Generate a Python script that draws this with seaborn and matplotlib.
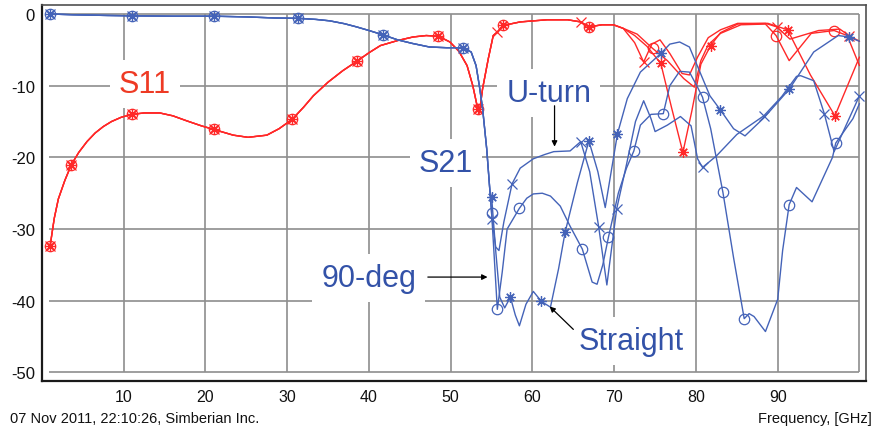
import numpy as np
import pandas as pd
import matplotlib
matplotlib.use("Agg")
import matplotlib.pyplot as plt
import seaborn as sns

# ---------------- data: frequency [GHz] and magnitude [dB] ----------------
# Low-frequency part shared by all three structures
f_s11_low = [1.0, 1.5, 2.0, 2.8, 3.6, 4.5, 5.5, 6.5, 7.5, 8.5, 9.7, 11.0, 12.5, 14.4,
             16.0, 17.7, 19.5, 21.0, 23.4, 25.2, 27.5, 29.0, 30.6, 32.0, 33.2, 35.0,
             36.8, 38.5, 40.0, 41.4, 43.5, 45.4, 47.0, 48.5, 49.9, 51.0, 52.0, 52.7,
             53.3, 53.5, 53.9, 54.6, 55.2, 55.7, 56.4, 58.5, 61.8, 64.3, 65.9, 66.9,
             68.5, 69.9, 71.1]
s11_low = [-32.3, -28.5, -25.8, -23.2, -21.0, -19.3, -17.8, -16.6, -15.7, -15.0, -14.4,
           -14.0, -13.8, -13.8, -14.2, -14.9, -15.6, -16.1, -16.9, -17.2, -16.9, -16.0,
           -14.7, -13.0, -11.4, -9.5, -7.9, -6.6, -5.4, -4.4, -3.7, -3.2, -3.0, -3.1,
           -3.9, -5.2, -7.2, -10.0, -13.2, -13.8, -10.4, -6.2, -3.0, -2.5, -1.6, -1.1,
           -0.8, -0.8, -1.1, -1.8, -1.5, -1.5, -2.0]

f_s21_low = [1.0, 3.8, 8.0, 11.0, 16.0, 21.0, 25.0, 28.5, 31.3, 33.5, 35.2, 37.0, 38.5,
             40.0, 41.7, 43.5, 45.3, 47.4, 49.5, 51.5, 52.5, 53.1, 53.5, 53.9, 54.4, 54.8]
s21_low = [0.0, -0.1, -0.2, -0.25, -0.3, -0.3, -0.4, -0.55, -0.6, -0.75, -0.95, -1.35,
           -1.8, -2.3, -2.9, -3.6, -4.1, -4.6, -4.7, -4.7, -5.3, -7.2, -10.0, -13.2,
           -18.8, -24.8]

# S11 above 71 GHz, per structure
f_s11_straight = [72.5, 74.0, 75.7, 77.0, 78.4, 79.5, 80.6, 81.8, 83.0, 85.1, 88.8, 91.2,
                  94.0, 97.0, 100.0]
s11_straight = [-3.0, -4.5, -6.9, -13.0, -19.3, -13.5, -7.0, -4.4, -2.6, -1.4, -1.3, -2.2,
                -8.5, -14.2, -6.0]
f_s11_90deg = [72.8, 74.7, 76.5, 78.5, 79.8, 80.6, 81.5, 83.0, 85.5, 88.5, 89.8, 91.4,
               94.1, 96.9, 98.5, 100.0]
s11_90deg = [-2.8, -4.8, -6.5, -9.0, -10.2, -6.5, -4.3, -2.7, -1.5, -1.4, -3.0, -6.5,
             -2.7, -2.3, -3.0, -7.2]
f_s11_uturn = [72.5, 73.6, 74.6, 75.6, 76.8, 78.3, 79.2, 80.2, 81.5, 83.0, 85.1, 88.5,
               89.9, 91.5, 95.0, 97.6, 98.7, 100.0]
s11_uturn = [-4.0, -6.7, -4.2, -3.6, -5.5, -8.3, -8.5, -6.0, -3.3, -2.2, -1.3, -1.3,
             -1.8, -3.5, -2.3, -2.1, -3.0, -3.8]

# S21 above 55 GHz, per structure
f_s21_straight = [55.0, 55.5, 56.0, 56.6, 57.3, 57.9, 58.4, 59.2, 60.1, 61.1, 62.2, 63.2,
                  64.0, 65.5, 66.9, 68.0, 68.9, 69.7, 70.4, 71.6, 73.2, 75.7, 76.8, 78.0,
                  79.2, 81.7, 83.0, 84.6, 86.0, 88.3, 91.4, 94.4, 97.4, 98.7, 100.0]
s21_straight = [-25.5, -33.0, -39.5, -41.0, -39.5, -42.0, -43.5, -40.5, -38.7, -40.1, -40.9,
                -35.5, -30.4, -23.5, -17.7, -22.0, -27.0, -21.5, -16.7, -11.8, -8.1, -5.5,
                -4.2, -3.9, -4.6, -11.4, -13.4, -16.0, -17.0, -14.5, -10.5, -5.3, -3.0,
                -3.2, -3.8]
f_s21_90deg = [55.0, 55.7, 56.3, 56.9, 58.4, 59.3, 60.1, 61.2, 62.2, 63.4, 64.6, 66.1,
               67.3, 67.9, 68.6, 69.3, 70.5, 71.5, 72.4, 73.2, 74.5, 76.0, 76.8, 78.0,
               79.2, 80.1, 80.8, 81.8, 83.3, 84.6, 85.9, 86.5, 87.1, 88.5, 90.0, 90.6,
               91.4, 92.3, 94.2, 96.7, 97.1, 99.2, 100.0]
s21_90deg = [-27.7, -41.2, -36.0, -30.0, -27.1, -25.7, -25.1, -25.0, -25.4, -26.8, -29.6,
             -32.8, -37.4, -37.7, -35.0, -31.1, -25.0, -21.5, -19.1, -15.5, -14.0, -13.9,
             -10.0, -8.0, -8.1, -10.0, -11.6, -16.0, -24.9, -34.0, -42.5, -41.8, -42.2,
             -44.3, -39.8, -33.0, -26.6, -24.2, -26.2, -20.0, -18.0, -14.6, -12.5]
f_s21_uturn = [55.05, 55.5, 55.9, 56.5, 57.5, 58.5, 60.1, 61.5, 62.6, 64.6, 65.9, 67.0,
               68.1, 69.1, 70.3, 71.5, 72.6, 73.6, 74.5, 75.0, 76.5, 78.1, 79.4, 80.2,
               80.8, 82.5, 85.0, 88.3, 90.5, 92.3, 92.8, 94.4, 95.7, 96.9, 100.0]
s21_uturn = [-28.6, -32.5, -33.0, -29.0, -23.7, -21.5, -20.2, -19.6, -19.2, -19.1, -17.8,
             -22.0, -29.7, -37.8, -27.2, -21.0, -15.0, -12.1, -14.6, -16.4, -15.5, -14.3,
             -15.6, -20.2, -21.4, -19.8, -16.8, -14.2, -11.5, -8.7, -8.6, -9.3, -13.9,
             -19.2, -11.4]

# frequencies that carry a marker on each curve
mk_s11_common = [1.0, 3.6, 11.0, 21.0, 30.6, 38.5, 48.5, 53.3]
mk_s11_straight = [56.4, 66.9, 75.7, 78.4, 81.8, 91.2, 97.0]
mk_s11_90deg = [56.4, 66.9, 74.7, 89.8, 96.9]
mk_s11_uturn = [55.7, 65.9, 73.6, 89.9, 98.7]
mk_s21_common = [1.0, 11.0, 21.0, 31.3, 41.7, 51.5]
mk_s21_straight = [55.0, 57.3, 61.1, 64.0, 66.9, 70.4, 75.7, 83.0, 91.4, 98.7]
mk_s21_90deg = [55.0, 55.7, 58.4, 66.1, 69.3, 72.4, 76.0, 80.8, 83.3, 85.9, 91.4, 97.1]
mk_s21_uturn = [55.05, 57.5, 65.9, 68.1, 70.3, 80.8, 88.3, 95.7, 100.0]

x_ticks = [10, 20, 30, 40, 50, 60, 70, 80, 90, 100]
x_tick_labels = ["10", "20", "30", "40", "50", "60", "70", "80", "90", ""]
y_ticks = [0, -10, -20, -30, -40, -50]

# ---------------- styling ----------------
RED = "#FF2828"
BLUE = "#4463B8"
RED_TXT = "#EE3A24"
BLUE_TXT = "#3352A8"
GRID = "#8E8E8E"

sns.set_theme(style="white")
plt.rcParams["font.family"] = ["Liberation Sans", "DejaVu Sans"]

fig = plt.figure(figsize=(8.76, 4.31), dpi=100)
W, H = 876, 431
ax = fig.add_axes([42 / W, 1 - 382 / H, (866 - 42) / W, (382 - 6) / H])
ax.set_xlim(0, 100.8)
ax.set_ylim(-51.2, 1.26)

# grid restricted to the data box
ax.hlines(y_ticks, 0.85, 100, color=GRID, lw=1.2, zorder=0.5)
ax.vlines(x_ticks, -50, 0, color=GRID, lw=1.2, zorder=0.5)

markers = {"straight": (8, 2, 0), "90deg": "o", "uturn": "x"}


def build(f_low, v_low, f_hi, v_hi, mk_low, mk_hi):
    f = np.array(f_low + f_hi, dtype=float)
    v = np.array(v_low + v_hi, dtype=float)
    marks = np.array(mk_low + mk_hi, dtype=float)
    mask = np.any(np.isclose(f[:, None], marks[None, :], atol=1e-6), axis=1)
    return pd.DataFrame({"freq": f, "dB": v}), mask


curves = [
    ("s11", "straight", f_s11_low, s11_low, f_s11_straight, s11_straight, mk_s11_common, mk_s11_straight, RED),
    ("s11", "90deg", f_s11_low, s11_low, f_s11_90deg, s11_90deg, mk_s11_common, mk_s11_90deg, RED),
    ("s11", "uturn", f_s11_low, s11_low, f_s11_uturn, s11_uturn, mk_s11_common, mk_s11_uturn, RED),
    ("s21", "straight", f_s21_low, s21_low, f_s21_straight, s21_straight, mk_s21_common, mk_s21_straight, BLUE),
    ("s21", "90deg", f_s21_low, s21_low, f_s21_90deg, s21_90deg, mk_s21_common, mk_s21_90deg, BLUE),
    ("s21", "uturn", f_s21_low, s21_low, f_s21_uturn, s21_uturn, mk_s21_common, mk_s21_uturn, BLUE),
]

for _, kind, fl, vl, fh, vh, ml, mh, col in curves:
    df, mask = build(fl, vl, fh, vh, ml, mh)
    sns.lineplot(data=df, x="freq", y="dB", ax=ax, color=col, lw=1.0,
                 estimator=None, sort=False, zorder=3,
                 marker=markers[kind], markevery=list(mask), markersize=7.5,
                 markerfacecolor="none", markeredgecolor=col, markeredgewidth=0.9)

ax.set_xlabel("")
ax.set_ylabel("")

# axes frame
for side in ["left", "bottom"]:
    ax.spines[side].set_color("#1a1a1a")
    ax.spines[side].set_linewidth(1.6)
for side in ["top", "right"]:
    ax.spines[side].set_color("#505050")
    ax.spines[side].set_linewidth(1.2)

ax.set_xticks(x_ticks)
ax.set_xticklabels(x_tick_labels)
ax.set_yticks(y_ticks)
ax.set_yticklabels([str(t) for t in y_ticks])
ax.tick_params(axis="x", direction="inout", length=6, width=1.2, color="#1a1a1a",
               labelsize=11.5, pad=3, labelcolor="#111111")
ax.tick_params(axis="y", direction="inout", length=7, width=1.2, color="#1a1a1a",
               labelsize=12, pad=1.5, labelcolor="#111111")

# curve labels
box = dict(boxstyle="square,pad=0.3", facecolor="white", edgecolor="none")
lab_kw = dict(ha="center", va="baseline", fontsize=22, bbox=box, zorder=2)
ax.text(12.57, -10.9, "S11", color=RED_TXT, **lab_kw)
ax.text(49.4, -21.9, "S21", color=BLUE_TXT, **lab_kw)
ax.text(62.0, -12.1, "U-turn", color=BLUE_TXT, **lab_kw)
ax.text(39.97, -37.96, "90-deg", color=BLUE_TXT, **lab_kw)
ax.text(72.1, -46.7, "Straight", color=BLUE_TXT, **lab_kw)

arrow = dict(arrowstyle="-|>", color="black", lw=0.9, mutation_scale=8,
             shrinkA=0, shrinkB=0)
ax.annotate("", xy=(62.7, -18.5), xytext=(62.7, -12.8), arrowprops=arrow, zorder=4)
ax.annotate("", xy=(54.5, -36.7), xytext=(47.2, -36.7), arrowprops=arrow, zorder=4)
ax.annotate("", xy=(62.1, -40.8), xytext=(65.0, -44.0), arrowprops=arrow, zorder=4)

# footer texts
fig.text(10 / W, 1 - 423 / H, "07 Nov 2011, 22:10:26, Simberian Inc.",
         ha="left", va="baseline", fontsize=10.5, color="#111111")
fig.text(872 / W, 1 - 423 / H, "Frequency, [GHz]",
         ha="right", va="baseline", fontsize=10.5, color="#111111")

fig.savefig("out.png", dpi=100)
